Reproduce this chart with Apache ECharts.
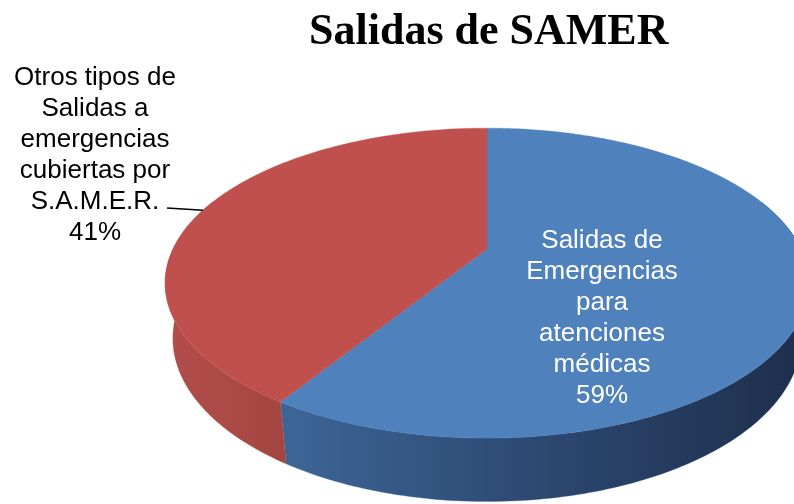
<!DOCTYPE html>
<html><head><meta charset="utf-8">
<script src="https://cdn.jsdelivr.net/npm/echarts@6/dist/echarts.min.js"></script>
<style>html,body{margin:0;padding:0;background:#fff}#c{width:794px;height:504px}</style>
</head><body><div id="c"></div>
<script>
// ---- data ----
const chartTitle = 'Salidas de SAMER';
const categories = [
  'Salidas de\nEmergencias\npara\natenciones\nmédicas',
  'Otros tipos de\nSalidas a\nemergencias\ncubiertas por\nS.A.M.E.R.'
];
const values = [59, 41];

// ---- styles ----
const topColors = ['#4F81BD', '#C0504D'];
const sideStops = [
  [[0, '#3D6697'], [0.45, '#2E4A74'], [1, '#1D2E4A']],
  [[0, '#B24E4B'], [1, '#A44542']]
];
const labelColors = ['#FFFFFF', '#000000'];
const labelPos = [[602, 318], [95, 155]];
const leaderStart = [[null, null], [167, 208]];

const P = {cx: 487, cy: 249, A: 314, s: 0.4696, c: 0.8829, k: 0.22, H: 0.2};
const total = values.reduce((a, b) => a + b, 0);

function proj(deg, Y) {
  const a = deg * Math.PI / 180;
  const sa = Math.sin(a), ca = Math.cos(a);
  const d = 1 + P.k * sa - P.k * (P.s / P.c) * Y;
  return [P.cx + P.A * ca / d, P.cy - P.A * (P.s * sa + Y * P.c) / d];
}
function arc(a0, a1, Y) {
  const n = Math.max(2, Math.ceil(Math.abs(a1 - a0)));
  const pts = [];
  for (let i = 0; i <= n; i++) pts.push(proj(a0 + (a1 - a0) * i / n, Y));
  return pts;
}

function renderItem(params, api) {
  const i = params.dataIndex;
  const v = api.value(0);
  let cum = 0;
  for (let j = 0; j < i; j++) cum += values[j];
  const a0 = 90 - cum / total * 360;
  const a1 = 90 - (cum + v) / total * 360;
  const children = [];
  // visible (front) wall range, slightly widened so the silhouette is complete
  [[-200, 20], [-560, -340]].forEach(([lo, hi]) => {
    const s0 = Math.min(a0, hi), s1 = Math.max(a1, lo);
    if (s0 > s1) {
      const pts = arc(s0, s1, 0).concat(arc(s1, s0, -P.H));
      children.push({
        type: 'polygon', shape: {points: pts},
        style: {
          fill: new echarts.graphic.LinearGradient(0, 0, 1, 0,
            sideStops[i].map(s => ({offset: s[0], color: s[1]}))),
          stroke: sideStops[i][0][1], lineWidth: 0.3
        }
      });
    }
  });
  children.push({
    type: 'polygon',
    shape: {points: [[P.cx, P.cy]].concat(arc(a0, a1, 0))},
    style: {fill: topColors[i], stroke: topColors[i], lineWidth: 0.4}
  });
  const pct = Math.round(v / total * 100) + '%';
  if (leaderStart[i][0] != null) {
    const e = proj((a0 + a1) / 2, 0);
    children.push({
      type: 'line',
      shape: {x1: leaderStart[i][0], y1: leaderStart[i][1], x2: e[0], y2: e[1]},
      style: {stroke: '#000', lineWidth: 1.3}
    });
  }
  children.push({
    type: 'text',
    style: {
      text: categories[i] + '\n' + pct,
      x: labelPos[i][0], y: labelPos[i][1],
      align: 'center', verticalAlign: 'middle',
      fill: labelColors[i],
      fontSize: 26, fontFamily: 'Liberation Sans, Arial, sans-serif',
      lineHeight: 31
    }
  });
  return {type: 'group', children: children};
}

const chart = echarts.init(document.getElementById('c'), null, {renderer: 'canvas'});
chart.setOption({
  animation: false,
  backgroundColor: '#fff',
  title: {
    text: chartTitle,
    left: 304, top: 6,
    textStyle: {fontFamily: 'Liberation Serif, Times New Roman, serif', fontWeight: 'bold', fontSize: 44, color: '#000'}
  },
  series: [{
    type: 'custom',
    coordinateSystem: 'none',
    silent: true,
    data: values.map((v, i) => ({name: categories[i], value: [v]})),
    renderItem: renderItem
  }]
});
</script>
</body></html>
